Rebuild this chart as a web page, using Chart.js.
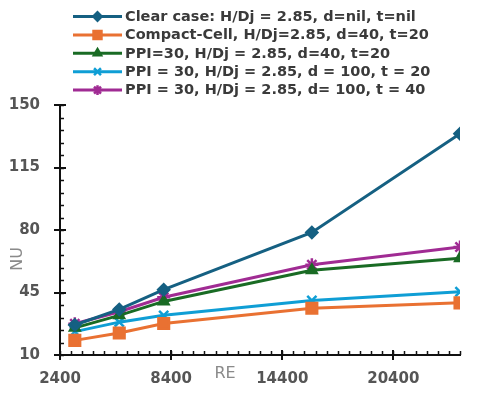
<!DOCTYPE html>
<html>
<head>
<meta charset="utf-8">
<script src="https://cdn.jsdelivr.net/npm/chart.js@4.4.1/dist/chart.umd.min.js"></script>
<style>
  html, body { margin: 0; padding: 0; background: #fff; }
  #wrap { width: 480px; height: 394px; }
</style>
</head>
<body>
<div id="wrap"><canvas id="nuChart"></canvas></div>
<script>
// values
const reValues = [3200, 5600, 8000, 16000, 24000];
const clearCase = [26.8, 35.5, 46.6, 78.6, 133.9];
const compactCell = [18.2, 22.3, 27.6, 36.2, 39.2];
const ppiD40T20 = [25.2, 32.2, 40.0, 57.5, 64.2];
const ppiD100T20 = [23.1, 28.4, 32.2, 40.5, 45.4];
const ppiD100T40 = [27.5, 34.2, 42.3, 60.5, 70.5];

const seriesNames = [
  "Clear case: H/Dj = 2.85, d=nil, t=nil",
  "Compact-Cell, H/Dj=2.85, d=40, t=20",
  "PPI=30, H/Dj = 2.85, d=40, t=20",
  "PPI = 30, H/Dj = 2.85, d = 100, t = 20",
  "PPI = 30, H/Dj = 2.85, d= 100, t = 40"
];
const seriesValues = [clearCase, compactCell, ppiD40T20, ppiD100T20, ppiD100T40];
const seriesColors = ["#156082", "#E97132", "#196B24", "#0F9ED5", "#A02B93"];
const seriesMarkers = ["rectRot", "rect", "triangle", "crossRot", "star"];
const markerSizes = [5.5, 7.5, 5.5, 6.5, 6.5];

const xTicks = [2400, 8400, 14400, 20400];
const yTicks = [10, 45, 80, 115, 150];

const tickFont = { family: "DejaVu Sans", size: 15, weight: "bold" };

// minor/major tick marks, axis titles and the legend
const decor = {
  id: "decor",
  afterDraw(chart) {
    const ctx = chart.ctx;
    const a = chart.chartArea;
    const x = chart.scales.x, y = chart.scales.y;
    ctx.save();
    ctx.strokeStyle = "#111";
    ctx.lineWidth = 1.5;
    ctx.beginPath();
    for (let v = x.min; v <= x.max; v += 600) {
      const px = Math.round(x.getPixelForValue(v)) + 0.5;
      ctx.moveTo(px, a.bottom - 4);
      ctx.lineTo(px, a.bottom);
    }
    for (let v = y.min; v <= y.max; v += 7) {
      const py = Math.round(y.getPixelForValue(v)) + 0.5;
      ctx.moveTo(a.left, py);
      ctx.lineTo(a.left + 4, py);
    }
    ctx.stroke();
    ctx.lineWidth = 2;
    ctx.beginPath();
    xTicks.forEach(v => {
      const px = Math.round(x.getPixelForValue(v));
      ctx.moveTo(px, a.bottom - 5);
      ctx.lineTo(px, a.bottom + 5);
    });
    yTicks.forEach(v => {
      const py = Math.round(y.getPixelForValue(v));
      ctx.moveTo(a.left - 6, py);
      ctx.lineTo(a.left + 6, py);
    });
    ctx.stroke();

    // axis titles
    ctx.fillStyle = "#8a8a8a";
    ctx.font = "16px 'DejaVu Sans'";
    ctx.textAlign = "center";
    ctx.textBaseline = "middle";
    ctx.fillText("RE", a.left + 165, a.bottom + 19);
    ctx.save();
    ctx.translate(18, 259);
    ctx.rotate(-Math.PI / 2);
    ctx.fillText("NU", 0, 0);
    ctx.restore();

    // legend
    ctx.textAlign = "left";
    ctx.font = "bold 14.5px 'DejaVu Sans'";
    chart.data.datasets.forEach((ds, i) => {
      const ly = 16.5 + i * 18.4;
      ctx.strokeStyle = ds.borderColor;
      ctx.lineWidth = 3;
      ctx.beginPath();
      ctx.moveTo(73, ly);
      ctx.lineTo(122, ly);
      ctx.stroke();
      ctx.fillStyle = ds.borderColor;
      ctx.lineWidth = 2.5;
      Chart.helpers.drawPoint(ctx, {
        pointStyle: ds.pointStyle,
        radius: ds.pointRadius * 0.75,
        borderWidth: 2.5,
        rotation: 0
      }, 97.5, ly);
      ctx.fillStyle = "#3a3a3a";
      ctx.fillText(ds.label, 125, ly + 0.5);
    });
    ctx.restore();
  }
};

const datasets = seriesValues.map((vals, i) => ({
  label: seriesNames[i],
  data: vals.map((v, j) => ({ x: reValues[j], y: v })),
  borderColor: seriesColors[i],
  backgroundColor: seriesColors[i],
  borderWidth: 3,
  pointStyle: seriesMarkers[i],
  pointRadius: markerSizes[i],
  pointBorderWidth: 2.5,
  tension: 0
}));

new Chart(document.getElementById("nuChart"), {
  type: "line",
  data: { datasets: datasets },
  options: {
    responsive: true,
    maintainAspectRatio: false,
    animation: false,
    layout: { padding: { top: 105, right: 20, left: 0, bottom: 0 } },
    plugins: {
      legend: { display: false },
      tooltip: { enabled: false }
    },
    scales: {
      x: {
        type: "linear",
        min: 2400,
        max: 24000,
        afterBuildTicks: s => { s.ticks = xTicks.map(v => ({ value: v })); },
        afterFit: s => { s.height = 39; },
        grid: { display: false, drawTicks: false },
        border: { display: true, color: "#111", width: 2 },
        ticks: { color: "#555", font: tickFont, padding: 15, maxRotation: 0,
                 callback: v => String(v) }
      },
      y: {
        min: 10,
        max: 150,
        afterBuildTicks: s => { s.ticks = yTicks.map(v => ({ value: v })); },
        afterFit: s => { s.width = 60; },
        grid: { display: false, drawTicks: false },
        border: { display: true, color: "#111", width: 2 },
        ticks: { color: "#555", font: tickFont, padding: 20,
                 callback: v => String(v) }
      }
    }
  },
  plugins: [decor]
});
</script>
</body>
</html>
